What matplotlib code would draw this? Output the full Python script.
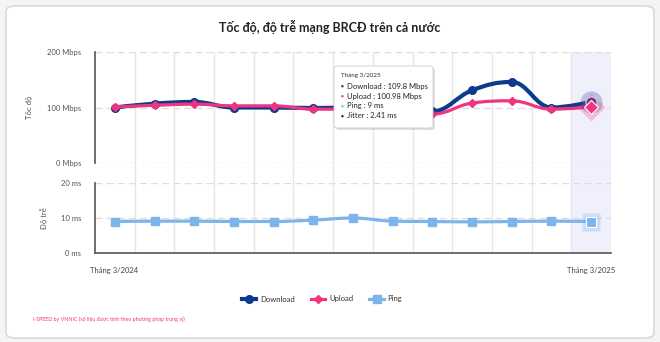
import matplotlib.pyplot as plt
import numpy as np
from matplotlib.path import Path
from matplotlib.patches import PathPatch, FancyBboxPatch
from matplotlib.lines import Line2D

plt.rcParams['font.family'] = ['Lato', 'DejaVu Sans']

# data, thang 3/2024 -> thang 3/2025
months = ['3/2024', '4/2024', '5/2024', '6/2024', '7/2024', '8/2024', '9/2024',
          '10/2024', '11/2024', '12/2024', '1/2025', '2/2025', '3/2025']
download = [100, 107, 110, 100, 100, 99, 100, 98, 93, 131, 146, 100, 109.8]
upload = [101, 104, 106, 103, 103, 97, 97, 92, 88, 108, 112, 97, 100.98]
ping = [9, 9.1, 9.1, 9, 9, 9.4, 10, 9.1, 9, 8.9, 9, 9.1, 9]
jitter_last = 2.41

C_DL = '#0d3a8c'
C_UL = '#f0347f'
C_PING = '#7cb5ec'
GRID = '#e6e6e6'


def spline_path(xs, ys, smoothing=1.5):
    # highcharts-like spline, bezier control points from neighbours
    verts = [(xs[0], ys[0])]
    codes = [Path.MOVETO]
    n = len(xs)
    ctrl = []
    for i in range(n):
        if i == 0 or i == n - 1:
            ctrl.append(((xs[i], ys[i]), (xs[i], ys[i])))
            continue
        lx = (smoothing * xs[i] + xs[i - 1]) / (smoothing + 1)
        ly = (smoothing * ys[i] + ys[i - 1]) / (smoothing + 1)
        rx = (smoothing * xs[i] + xs[i + 1]) / (smoothing + 1)
        ry = (smoothing * ys[i] + ys[i + 1]) / (smoothing + 1)
        corr = (ry - ly) * (rx - xs[i]) / (rx - lx) + ys[i] - ry
        ly += corr
        ry += corr
        if ly > max(ys[i - 1], ys[i]) or ly < min(ys[i - 1], ys[i]):
            ly = max(min(ly, max(ys[i - 1], ys[i])), min(ys[i - 1], ys[i]))
            ry = 2 * ys[i] - ly
        if ry > max(ys[i + 1], ys[i]) or ry < min(ys[i + 1], ys[i]):
            ry = max(min(ry, max(ys[i + 1], ys[i])), min(ys[i + 1], ys[i]))
            ly = 2 * ys[i] - ry
        ctrl.append(((lx, ly), (rx, ry)))
    for i in range(1, n):
        verts += [ctrl[i - 1][1], ctrl[i][0], (xs[i], ys[i])]
        codes += [Path.CURVE4] * 3
    return Path(verts, codes)


W, H = 660, 342
fig = plt.figure(figsize=(6.6, 3.42), dpi=100)
fig.patch.set_facecolor('#f4f4f4')


def fr(x0, y0, x1, y1):
    return [x0 / W, 1 - y1 / H, (x1 - x0) / W, (y1 - y0) / H]


# card
card = FancyBboxPatch((6 / W, 4 / H), 648 / W, 332 / H,
                      boxstyle='round,pad=0,rounding_size=0.015',
                      transform=fig.transFigure, facecolor='white',
                      edgecolor='#d9d9d9', lw=1.2, zorder=-10)
fig.patches.append(card)

x = np.arange(len(months)) + 0.5

# background: vertical grid + highlighted column
bg = fig.add_axes(fr(95, 52, 611, 253))
bg.set_xlim(0, 13)
bg.set_ylim(0, 1)
bg.axis('off')
bg.axvspan(12, 13, color='#eff0fc', zorder=0)
for k in range(1, 14):
    bg.axvline(k, color=GRID, lw=1, zorder=1)

ax1 = fig.add_axes(fr(95, 52, 611, 163))
ax2 = fig.add_axes(fr(95, 183, 611, 253))
for ax in (ax1, ax2):
    ax.set_facecolor('none')
    ax.set_xlim(0, 13)
    ax.set_xticks([])
    for s in ('top', 'right', 'bottom'):
        ax.spines[s].set_visible(False)
    ax.spines['left'].set_color('#555555')
    ax.spines['left'].set_linewidth(1.2)
    ax.tick_params(axis='y', length=0, labelsize=5.5, labelcolor='#555555', pad=10)

ax1.set_ylim(0, 200)
ax1.set_yticks([0, 100, 200])
ax1.set_yticklabels(['0 Mbps', '100 Mbps', '200 Mbps'])
for v in [0, 100, 200]:
    ax1.axhline(v, color='#dddddd', lw=1, ls=(0, (5, 3)), zorder=1)
ax1.set_ylabel('Tốc độ', fontsize=5.5, color='#555555')
ax1.yaxis.set_label_coords((33 - 95) / 516, 0.5)

ax2.set_ylim(0, 20)
ax2.set_yticks([0, 10, 20])
ax2.set_yticklabels(['0 ms', '10 ms', '20 ms'])
for v in [10, 20]:
    ax2.axhline(v, color='#dddddd', lw=1, ls=(0, (5, 3)), zorder=1)
ax2.spines['bottom'].set_visible(True)
ax2.spines['bottom'].set_color('#555555')
ax2.spines['bottom'].set_linewidth(1.2)
ax2.set_ylabel('Độ trễ', fontsize=5.5, color='#555555')
ax2.yaxis.set_label_coords((48 - 95) / 516, 0.5)

# series
ax1.add_patch(PathPatch(spline_path(x, download), fill=False, edgecolor=C_DL, lw=3, zorder=3))
ax1.plot(x[:-1], download[:-1], 'o', color=C_DL, ms=5.5, zorder=4)
ax1.add_patch(PathPatch(spline_path(x, upload), fill=False, edgecolor=C_UL, lw=2.3, zorder=4))
ax1.plot(x[:-1], upload[:-1], 'D', color=C_UL, ms=4, zorder=5)
# hovered point
ax1.plot(x[-1], download[-1], 'o', color=C_DL, ms=16, alpha=0.25, mec='none', zorder=4)
ax1.plot(x[-1], download[-1], 'o', color='#4a3a8c', ms=8, mec='white', mew=0.8, zorder=5)
ax1.plot(x[-1], upload[-1], 'D', color=C_UL, ms=14, alpha=0.25, mec='none', zorder=5)
ax1.plot(x[-1], upload[-1], 'D', color=C_UL, ms=7, mec='white', mew=0.8, zorder=6)

ax2.add_patch(PathPatch(spline_path(x, ping), fill=False, edgecolor=C_PING, lw=2.3, zorder=3))
ax2.plot(x[:-1], ping[:-1], 's', color=C_PING, ms=6, zorder=4)
ax2.plot(x[-1], ping[-1], 's', color=C_PING, ms=13, alpha=0.3, mec='none', zorder=4)
ax2.plot(x[-1], ping[-1], 's', color=C_PING, ms=7.5, mec='white', mew=0.8, zorder=5)

# x labels
fig.text(114 / W, 1 - 271 / H, 'Tháng ' + months[0], ha='center', va='center', fontsize=5.5, color='#444444')
fig.text(591 / W, 1 - 271 / H, 'Tháng ' + months[-1], ha='center', va='center', fontsize=5.5, color='#444444')

# title
fig.text(0.5, 1 - 27 / H, 'Tốc độ, độ trễ mạng BRCĐ trên cả nước', ha='center', va='center',
         fontsize=9, fontweight='bold', color='#222222')

# tooltip
tip = FancyBboxPatch((334 / W, 1 - 128 / H), 99 / W, 62 / H,
                     boxstyle='round,pad=0,rounding_size=0.006',
                     transform=fig.transFigure, facecolor='white',
                     edgecolor='#cccccc', lw=0.6, zorder=10)
shadow = FancyBboxPatch((336 / W, 1 - 130 / H), 99 / W, 62 / H,
                        boxstyle='round,pad=0,rounding_size=0.006',
                        transform=fig.transFigure, facecolor='#000000',
                        alpha=0.12, edgecolor='none', zorder=9)
fig.patches.extend([shadow, tip])
fig.text(341 / W, 1 - 76 / H, 'Tháng ' + months[-1], fontsize=4.5, color='#333333', va='center', zorder=11)
rows = [(C_DL, f'Download : {download[-1]} Mbps'),
        (C_UL, f'Upload : {upload[-1]} Mbps'),
        (C_PING, f'Ping : {ping[-1]:g} ms'),
        ('#222222', f'Jitter : {jitter_last} ms')]
for i, (c, t) in enumerate(rows):
    yy = 1 - (86 + i * 10) / H
    fig.text(341 / W, yy, '●', fontsize=3.5, color=c, va='center', zorder=11)
    fig.text(347 / W, yy, t, fontsize=5.5, color='#222222', va='center', zorder=11)

# legend
handles = [Line2D([], [], color=C_DL, lw=3, marker='o', ms=5.5),
           Line2D([], [], color=C_UL, lw=2.3, marker='D', ms=4),
           Line2D([], [], color=C_PING, lw=2.3, marker='s', ms=6)]
fig.legend(handles, ['Download', 'Upload', 'Ping'], loc='center', ncol=3,
           bbox_to_anchor=(0.488, 1 - 299 / H), frameon=False, fontsize=5.5,
           handlelength=1.9, columnspacing=2.1, handletextpad=0.5, labelcolor='#333333')

fig.text(33 / W, 1 - 319 / H, 'i-SPEED by VNNIC (số liệu được tính theo phương pháp trung vị)',
         fontsize=3.8, color=C_UL, va='center')

fig.savefig('out.png', dpi=100)
